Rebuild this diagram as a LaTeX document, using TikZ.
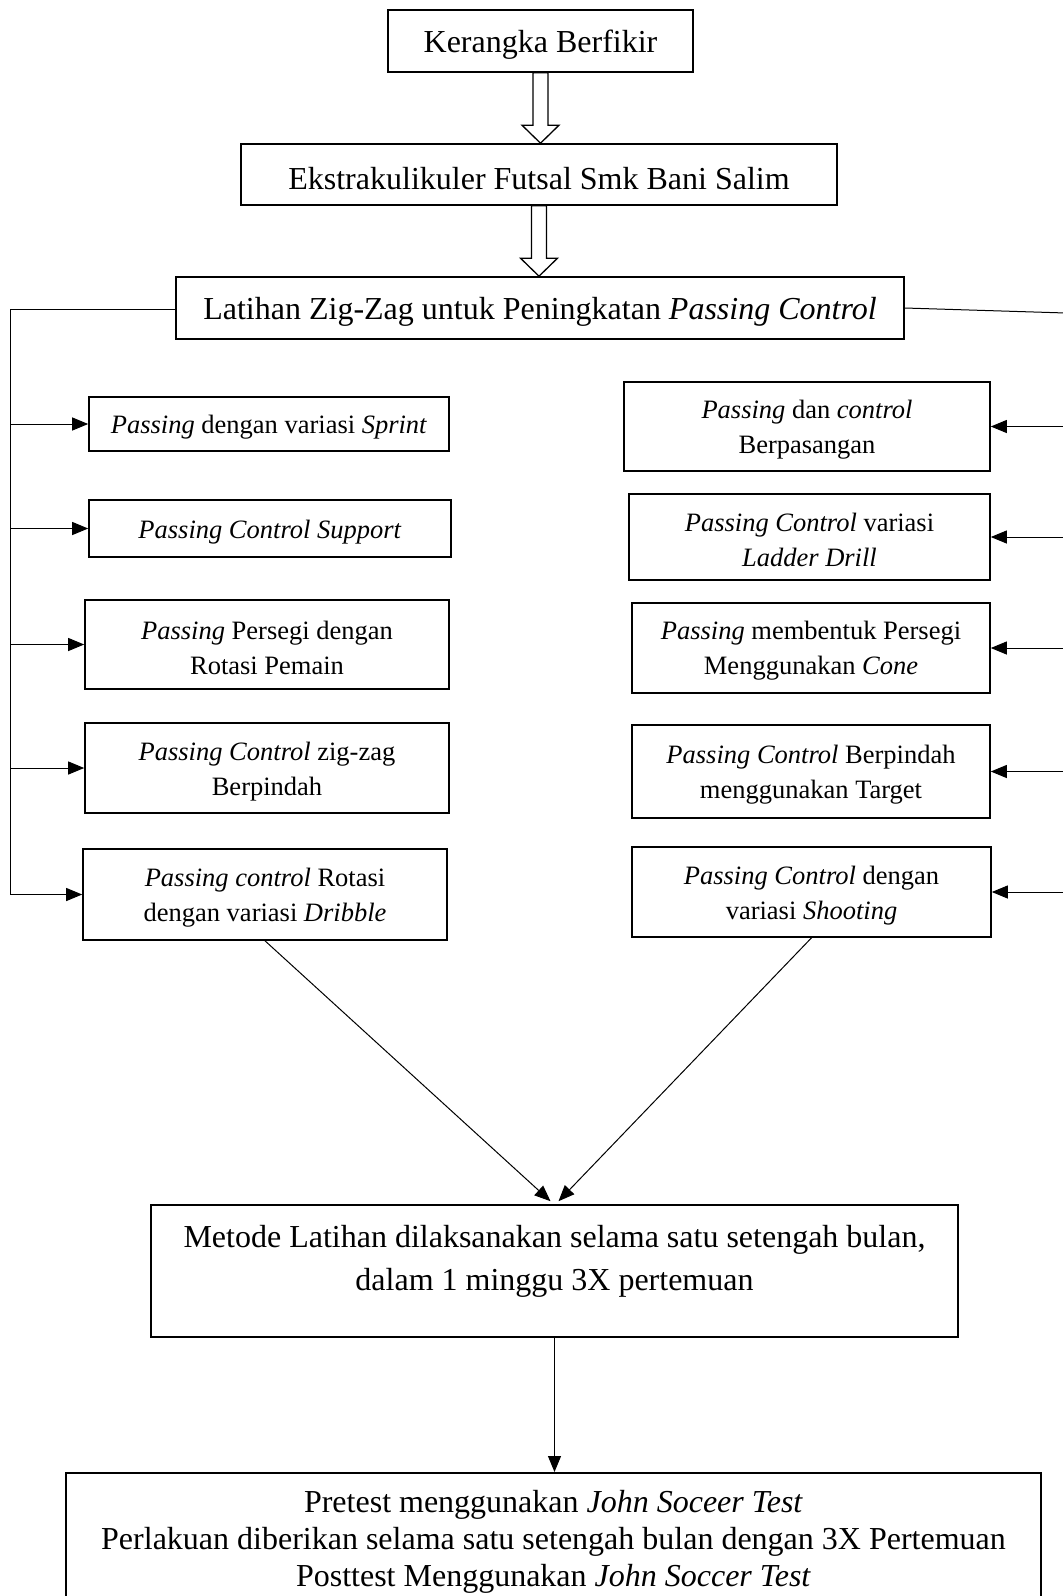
\documentclass[tikz,border=0pt]{standalone}
\usepackage{fontspec}
\setmainfont{Liberation Serif}
\usetikzlibrary{positioning,calc,arrows.meta}

\newcommand{\topstrut}{\rule{0pt}{0.93em}}
\newcommand{\hollowarrow}[2]{%
  \draw[hollow] ($(#1.south)+(-7.5,0)$) -- ($(#1.south |- #2.north)+(-7.5,-18)$)
    -- ($(#1.south |- #2.north)+(-18.5,-18)$) -- (#1.south |- #2.north)
    -- ($(#1.south |- #2.north)+(18.5,-18)$) -- ($(#1.south |- #2.north)+(7.5,-18)$)
    -- ($(#1.south)+(7.5,0)$) -- cycle;}

\begin{document}
\begin{tikzpicture}[x=1pt, y=-1pt,
  box/.style={draw, rectangle, line width=1.6pt, align=center, inner sep=0pt},
  bigtxt/.style={font=\fontsize{32}{37}\selectfont},
  smalltxt/.style={font=\fontsize{26.5}{35}\selectfont},
  conn/.style={line width=1pt, -{Triangle[length=16pt, width=13pt]}},
  hollow/.style={line width=1.3pt, fill=white}]
  \clip (0,0) rectangle (1063,1596);

  \node[box, bigtxt, minimum width=305, minimum height=62] (kb) at (540.5, 41) {\topstrut Kerangka Berfikir};
  \node[box, bigtxt, minimum width=596, minimum height=61] (ek) at (539, 174.5) {\topstrut Ekstrakulikuler Futsal Smk Bani Salim};
  \hollowarrow{kb}{ek}
  \node[box, bigtxt, minimum width=728, minimum height=62] (lat) at (540, 308) {\topstrut Latihan Zig-Zag untuk Peningkatan \textit{Passing Control}};
  \hollowarrow{ek}{lat}

  \coordinate (ll) at (10, 309);
  \coordinate (rr) at (1066, 313);
  \node[box, smalltxt, minimum width=360, minimum height=54] (l1) at (269, 424) {\topstrut\textit{Passing} dengan variasi \textit{Sprint}};
  \node[box, smalltxt, minimum width=362, minimum height=57] (l2) at (270, 528.5) {\topstrut\textit{Passing Control Support}};
  \node[box, smalltxt, minimum width=364, minimum height=89] (l3) at (267, 644.5) {\topstrut\textit{Passing} Persegi dengan\\ Rotasi Pemain};
  \node[box, smalltxt, minimum width=364, minimum height=90] (l4) at (267, 768) {\topstrut\textit{Passing Control} zig-zag\\ Berpindah};
  \node[box, smalltxt, minimum width=364, minimum height=91] (l5) at (265, 894.5) {\topstrut\textit{Passing control} Rotasi\\ dengan variasi \textit{Dribble}};
  \draw[line width=1pt] (lat.west |- ll) -- (ll) -- (ll |- l5.west);
  \draw[conn] (l1.west -| ll) -- (l1.west);
  \draw[conn] (l2.west -| ll) -- (l2.west);
  \draw[conn] (l3.west -| ll) -- (l3.west);
  \draw[conn] (l4.west -| ll) -- (l4.west);
  \draw[conn] (l5.west -| ll) -- (l5.west);

  \node[box, smalltxt, minimum width=366, minimum height=89] (r1) at (807, 426.5) {\topstrut\textit{Passing} dan \textit{control}\\ Berpasangan};
  \node[box, smalltxt, minimum width=361, minimum height=86] (r2) at (809.5, 537) {\topstrut\textit{Passing Control} variasi\\ \textit{Ladder Drill}};
  \node[box, smalltxt, minimum width=358, minimum height=90] (r3) at (811, 648) {\topstrut\textit{Passing} membentuk Persegi\\ Menggunakan \textit{Cone}};
  \node[box, smalltxt, minimum width=358, minimum height=93] (r4) at (811, 771.5) {\topstrut\textit{Passing Control} Berpindah\\ menggunakan Target};
  \node[box, smalltxt, minimum width=359, minimum height=90] (r5) at (811.5, 892) {\topstrut\textit{Passing Control} dengan\\ variasi \textit{Shooting}};
  \draw[line width=1pt] (lat.east) -- (rr) -- (rr |- r5.east);
  \draw[conn] (r1.east -| rr) -- (r1.east);
  \draw[conn] (r2.east -| rr) -- (r2.east);
  \draw[conn] (r3.east -| rr) -- (r3.east);
  \draw[conn] (r4.east -| rr) -- (r4.east);
  \draw[conn] (r5.east -| rr) -- (r5.east);

  \node[box, font=\fontsize{32}{43}\selectfont, minimum width=807, minimum height=132] (met) at (554.5, 1271) {\topstrut Metode Latihan dilaksanakan selama satu setengah bulan,\\ dalam 1 minggu 3X pertemuan\\[-9pt]\mbox{}};
  \draw[conn] (l5.south) -- ($(met.north)+(-4,-3)$);
  \draw[conn] (r5.south) -- ($(met.north)+(4,-3)$);

  \node[box, bigtxt, minimum width=975, minimum height=131, anchor=north] (post) at (553.5, 1472) {\topstrut Pretest menggunakan \textit{John Soceer Test}\\ Perlakuan diberikan selama satu setengah bulan dengan 3X Pertemuan\\ Posttest Menggunakan \textit{John Soccer Test}};
  \draw[conn] (met.south) -- (met.south |- post.north);
\end{tikzpicture}
\end{document}
